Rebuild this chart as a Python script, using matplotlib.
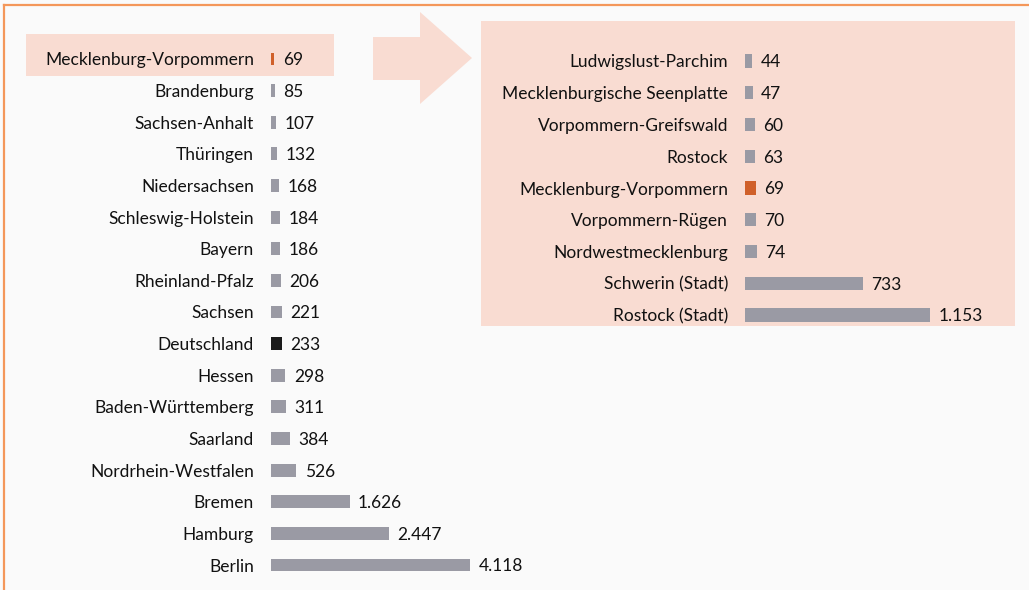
import matplotlib.pyplot as plt
from matplotlib.patches import Rectangle, Polygon
from matplotlib.lines import Line2D

plt.rcParams['font.family'] = ['Lato', 'DejaVu Sans']

# Bundesländer (values per category)
states = ['Mecklenburg-Vorpommern', 'Brandenburg', 'Sachsen-Anhalt', 'Thüringen',
          'Niedersachsen', 'Schleswig-Holstein', 'Bayern', 'Rheinland-Pfalz', 'Sachsen',
          'Deutschland', 'Hessen', 'Baden-Württemberg', 'Saarland', 'Nordrhein-Westfalen',
          'Bremen', 'Hamburg', 'Berlin']
state_values = [69, 85, 107, 132, 168, 184, 186, 206, 221, 233, 298, 311, 384, 526,
                1626, 2447, 4118]

# Kreise in Mecklenburg-Vorpommern
districts = ['Ludwigslust-Parchim', 'Mecklenburgische Seenplatte', 'Vorpommern-Greifswald',
             'Rostock', 'Mecklenburg-Vorpommern', 'Vorpommern-Rügen', 'Nordwestmecklenburg',
             'Schwerin (Stadt)', 'Rostock (Stadt)']
district_values = [44, 47, 60, 63, 69, 70, 74, 733, 1153]

GRAY = '#9a9aa4'
ORANGE = '#d0602a'
BLACK = '#1b1b1b'
PINK = '#f9dcd2'
BORDER = '#f4975a'
BG = '#fafafa'
TEXT = '#111111'

W, H = 1029, 590
fig = plt.figure(figsize=(W / 100, H / 100), dpi=100, facecolor=BG)


def px_rect(x0, y0, x1, y1):
    # pixel box (top-left origin) -> figure fraction [left, bottom, width, height]
    return [x0 / W, 1 - y1 / H, (x1 - x0) / W, (y1 - y0) / H]


def fmt(v):
    return f'{v:,}'.replace(',', '.')


# decorations: border, highlight, arrow, district panel
fig.add_artist(Line2D([4 / W, 1], [1 - 5 / H, 1 - 5 / H], color=BORDER, lw=1.6))
fig.add_artist(Line2D([4 / W, 4 / W], [0, 1 - 5 / H], color=BORDER, lw=1.6))
l, b, w, h = px_rect(26, 34, 334, 76)
fig.add_artist(Rectangle((l, b), w, h, transform=fig.transFigure, color=PINK, lw=0, zorder=0))
l, b, w, h = px_rect(481, 21, 1015, 326)
fig.add_artist(Rectangle((l, b), w, h, transform=fig.transFigure, color=PINK, lw=0, zorder=0))
arrow_px = [(373, 37), (420, 37), (420, 12), (472, 58), (420, 104), (420, 80), (373, 80)]
fig.add_artist(Polygon([(x / W, 1 - y / H) for x, y in arrow_px], closed=True,
                       transform=fig.transFigure, color=PINK, lw=0, zorder=0))


def panel(rect, labels, values, colors, px_per_unit, width_px, pad_px):
    ax = fig.add_axes(rect)
    ax.set_facecolor('none')
    n = len(labels)
    ax.barh(range(n), values, height=0.41, color=colors)
    ax.set_xlim(0, width_px / px_per_unit)
    ax.set_ylim(n - 0.5, -0.5)
    ax.set_yticks(range(n))
    ax.set_yticklabels(labels, fontsize=12.5, color=TEXT)
    ax.tick_params(axis='y', length=0, pad=pad_px * 0.72)
    ax.set_xticks([])
    for s in ax.spines.values():
        s.set_visible(False)
    for i, v in enumerate(values):
        ax.annotate(fmt(v), (v, i), xytext=(6, -1), textcoords='offset points',
                    va='center', ha='left', fontsize=12.5, color=TEXT)
    return ax


step_l = (565 - 59) / 16
state_colors = [ORANGE if s == 'Mecklenburg-Vorpommern' else BLACK if s == 'Deutschland' else GRAY
                for s in states]
panel(px_rect(271, 59 - step_l / 2, 521, 565 + step_l / 2), states, state_values,
      state_colors, 199 / 4118, 250, 17)

step_r = (315 - 61) / 8
district_colors = [ORANGE if d == 'Mecklenburg-Vorpommern' else GRAY for d in districts]
panel(px_rect(745, 61 - step_r / 2, 1000, 315 + step_r / 2), districts, district_values,
      district_colors, 185 / 1153, 255, 17)

fig.savefig('out.png', dpi=100, facecolor=BG)
